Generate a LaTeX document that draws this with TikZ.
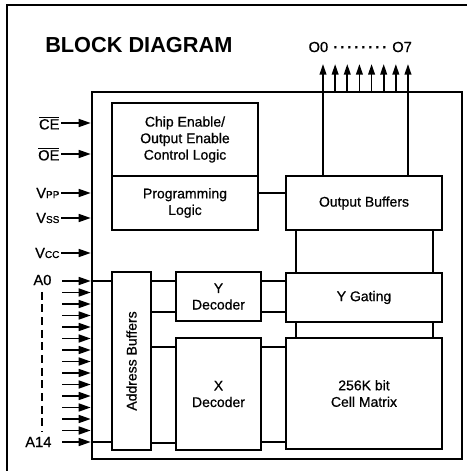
\documentclass[tikz,border=0pt]{standalone}
\usepackage{fontspec}
\setmainfont{Liberation Sans}
\newfontfamily\medsans{Liberation Sans}[FakeBold=0.7]
\usetikzlibrary{arrows.meta,positioning,calc}

\begin{document}
\begin{tikzpicture}[x=0.75pt, y=-0.75pt,
  blk/.style={draw, line width=1.4pt, inner sep=0pt, align=center,
              font=\medsans\fontsize{10.5}{12.4}\selectfont},
  pin/.style={inner sep=1pt, font=\medsans\fontsize{11}{13}\selectfont},
  inarr/.style={line width=1.2pt, -{Triangle[length=9pt,width=6pt]}},
  outarr/.style={line width=1.3pt, -{Triangle[length=8pt,width=5pt]}},
  wire/.style={line width=1.3pt}]
  \useasboundingbox (0,0) rectangle (467,471);
  \draw[line width=1pt] (7,471) -- (7,5) -- (467,5);

  \node[anchor=west, inner sep=0pt, font=\fontsize{16.3}{19}\selectfont\bfseries] (title) at (45,45) {BLOCK DIAGRAM};
  \node[pin, anchor=west] (obus) at (307,47) {O0\hskip 3pt\cleaders\hbox to 5.25pt{\hss\bfseries·\hss}\hskip 42.1pt\hskip 3pt O7};

  % chip outline and blocks
  \node[draw, line width=2pt, minimum width=277.5pt, minimum height=275.25pt] (chip) at (277,275.5) {};
  \node[blk, minimum width=109.5pt, minimum height=54.75pt] (ctrl) at (185,139.5) {Chip Enable/\\Output Enable\\Control Logic};
  \node[blk, minimum width=109.5pt, minimum height=40.5pt] (prog) at (185,203) {Programming\\Logic};
  \node[blk, minimum width=117pt, minimum height=40.5pt] (outbuf) at (364,203) {Output Buffers};
  \node[blk, minimum width=117pt, minimum height=36.75pt] (ygate) at (364,297.5) {Y Gating};
  \node[blk, minimum width=117pt, minimum height=83.25pt] (cells) at (364,393.5) {256K bit\\Cell Matrix};
  \node[blk, minimum width=63.75pt, minimum height=36.75pt] (ydec) at (218.5,296.5) {Y\\Decoder};
  \node[blk, minimum width=63.75pt, minimum height=84pt] (xdec) at (218.5,394) {X\\Decoder};
  \node[blk, minimum width=29.25pt, minimum height=133.5pt] (addr) at (131.5,361) {};
  \node[rotate=90, inner sep=0pt, font=\medsans\fontsize{10.5}{12.4}\selectfont] (addrtxt) at (addr.center) {Address Buffers};

  % outputs
  \foreach \i in {0,...,7} \coordinate (o\i) at ({323+12.14*\i},64);
  \foreach \i in {1,...,6} \draw[outarr] (chip.north -| o\i) -- (o\i);
  \draw[outarr] (outbuf.north -| o0) -- (o0);
  \draw[outarr] (outbuf.north -| o7) -- (o7);

  % inner wires
  \draw[wire] ($(prog.east)+(0,-10)$) -- ($(outbuf.west)+(0,-10)$);
  \draw[wire] ($(outbuf.south west)+(11,0)$) -- ($(ygate.north west)+(11,0)$);
  \draw[wire] ($(outbuf.south east)+(-10,0)$) -- ($(ygate.north east)+(-10,0)$);
  \draw[wire] ($(ygate.south west)+(11,0)$) -- ($(cells.north west)+(11,0)$);
  \draw[wire] ($(ygate.south east)+(-10,0)$) -- ($(cells.north east)+(-10,0)$);
  \draw[wire] ($(addr.east |- ydec.west)+(0,-15.5)$) -- ($(ydec.west)+(0,-15.5)$);
  \draw[wire] ($(addr.east |- ydec.west)+(0,15.5)$) -- ($(ydec.west)+(0,15.5)$);
  \draw[wire] ($(ydec.east)+(0,-15.5)$) -- ($(ydec.east -| ygate.west)+(0,-15.5)$);
  \draw[wire] ($(ydec.east)+(0,15.5)$) -- ($(ydec.east -| ygate.west)+(0,15.5)$);
  \draw[wire] ($(addr.east |- xdec.west)+(0,-47)$) -- ($(xdec.west)+(0,-47)$);
  \draw[wire] ($(addr.east |- xdec.west)+(0,49)$) -- ($(xdec.west)+(0,49)$);
  \draw[wire] ($(xdec.east)+(0,-47)$) -- ($(xdec.east -| cells.west)+(0,-47)$);
  \draw[wire] ($(xdec.east)+(0,48)$) -- ($(xdec.east -| cells.west)+(0,48)$);

  % control and supply pins
  \node[pin, anchor=east] (ce) at (61,123) {$\overline{\mbox{CE}}$};
  \node[pin, anchor=east] (oe) at (61,154) {$\overline{\mbox{OE}}$};
  \node[pin, anchor=east] (vpp) at (61,193) {V{\fontsize{7.5}{9}\selectfont PP}};
  \node[pin, anchor=east] (vss) at (61,218) {V{\fontsize{7.5}{9}\selectfont SS}};
  \node[pin, anchor=east] (vcc) at (61,253) {V{\fontsize{7.5}{9}\selectfont CC}};
  \foreach \p in {ce,oe,vpp,vss,vcc} \draw[inarr] (\p.east) -- (chip.west |- \p.east);

  % address pins
  \foreach \i in {0,...,14} \coordinate (a\i) at (62,{281+11.5*\i});
  \foreach \i in {0,...,14} \draw[inarr] (a\i) -- (chip.west |- a\i);
  \node[pin, anchor=east] (a0lbl) at (53,280) {A0};
  \node[pin, anchor=east] (a14lbl) at (53,442) {A14};
  \draw[line width=1.4pt, dash pattern=on 6pt off 3.5pt] ($(a0lbl.south)+(0,5)$) -- ($(a0lbl.south |- a14lbl.north)+(0,-3)$);
  \draw[wire] (chip.west |- a0) -- (addr.west |- a0);
  \draw[wire] (chip.west |- a14) -- (addr.west |- a14);
\end{tikzpicture}
\end{document}
